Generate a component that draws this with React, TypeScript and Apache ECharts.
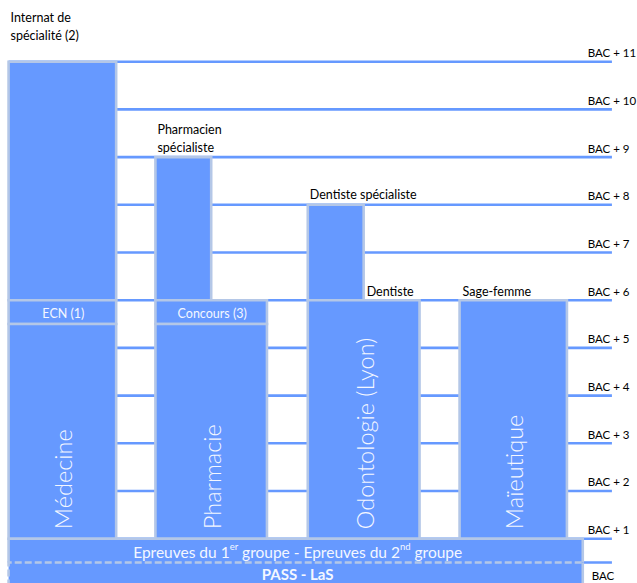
import React, { useEffect, useRef } from "react";
import * as echarts from "echarts";

// ---- data (diagram units: x in track widths, y in years after the BAC) ----
const levelValues = [0.5, 1, 2, 3, 4, 5, 6, 7, 8, 9, 10, 11];
const levelLabels = [
  "BAC", "BAC + 1", "BAC + 2", "BAC + 3", "BAC + 4", "BAC + 5",
  "BAC + 6", "BAC + 7", "BAC + 8", "BAC + 9", "BAC + 10", "BAC + 11",
];

const tracks = ["Médecine", "Pharmacie", "Odontologie (Lyon)", "Maïeutique"];
const trackLeft = [0, 1.335, 2.72, 4.1];
const trackRight = [0.978, 2.349, 3.736, 5.076];
const trackBottom = [1, 1, 1, 1];
const trackTop = [5.5, 5.5, 6, 6];

const exams = ["ECN (1)", "Concours (3)"];
const examTrack = [0, 1];
const examBottom = [5.5, 5.5];
const examTop = [6, 6];

const specialties = ["Internat de\nspécialité (2)", "Pharmacien\nspécialiste", "Dentiste spécialiste"];
const specialtyTrack = [0, 1, 2];
const specialtyShare = [1, 0.5, 0.5];
const specialtyBottom = [6, 6, 6];
const specialtyTop = [11, 9, 8];
const specialtyCaptionLevel = [11.33, 9, 8];

const exitLabels = ["Dentiste", "Sage-femme"];
const exitAt = [3.228, 4.1];
const exitLevel = [6, 6];

const commonYears = ["Epreuves du 1er groupe - Epreuves du 2nd groupe", "PASS - LaS"];
const commonBottom = [0.5, 0];
const commonTop = [1, 0.5];
const commonLeft = 0;
const commonRight = 5.22;
const lineEnd = 5.485;
const labelAt = 5.265;
const verticalTextLevel = 1.2;

// ---- styles ----
const BLUE = "#6699FF";
const EDGE = "#B4C7E7";
const INK = "#F4F7FF";
const FONT = "Lato, 'Open Sans', sans-serif";

export default function App() {
  const ref = useRef<HTMLDivElement>(null);
  useEffect(() => {
    if (!ref.current) return;
    const chart = echarts.init(ref.current, undefined, { renderer: "svg" });

    const lineSeries = {
      type: "custom",
      data: levelValues.map((v) => [0, v]),
      renderItem: (_p: any, api: any) => {
        const lv = api.value(1);
        const a = api.coord([0, lv]);
        const b = api.coord([lineEnd, lv]);
        return {
          type: "line",
          shape: { x1: a[0], y1: a[1], x2: b[0], y2: b[1] },
          style: { stroke: BLUE, lineWidth: 2.6 },
        };
      },
    };

    const levelLabelSeries = {
      type: "custom",
      data: levelValues.map((v) => [labelAt, v]),
      renderItem: (p: any, api: any) => {
        const pt = api.coord([api.value(0), api.value(1)]);
        const below = p.dataIndex === 0;
        return {
          type: "text",
          x: pt[0] + (below ? 4 : 0),
          y: pt[1] + (below ? 12.5 : -9),
          style: {
            text: levelLabels[p.dataIndex],
            fill: "#000",
            fontSize: 11.5,
            fontFamily: FONT,
            align: "left",
            verticalAlign: "middle",
          },
        };
      },
    };

    const specialtySeries = {
      type: "custom",
      data: specialties.map((_, i) => {
        const t = specialtyTrack[i];
        const l = trackLeft[t];
        const r = l + (trackRight[t] - trackLeft[t]) * specialtyShare[i];
        return [l, r, specialtyBottom[i], specialtyTop[i], specialtyCaptionLevel[i]];
      }),
      renderItem: (p: any, api: any) => {
        const a = api.coord([api.value(0), api.value(3)]);
        const b = api.coord([api.value(1), api.value(2)]);
        const c = api.coord([api.value(0), api.value(4)]);
        return {
          type: "group",
          children: [
            {
              type: "rect",
              shape: { x: a[0], y: a[1], width: b[0] - a[0], height: b[1] - a[1] },
              style: { fill: BLUE, stroke: EDGE, lineWidth: 2.6 },
            },
            {
              type: "text",
              x: c[0] + 2,
              y: c[1] - 1,
              style: {
                text: specialties[p.dataIndex],
                fill: "#000",
                fontSize: 12.5,
                lineHeight: 18,
                fontFamily: FONT,
                align: "left",
                verticalAlign: "bottom",
              },
            },
          ],
        };
      },
    };

    const examSeries = {
      type: "custom",
      data: exams.map((_, i) => [trackLeft[examTrack[i]], trackRight[examTrack[i]], examBottom[i], examTop[i]]),
      renderItem: (p: any, api: any) => {
        const a = api.coord([api.value(0), api.value(3)]);
        const b = api.coord([api.value(1), api.value(2)]);
        return {
          type: "group",
          children: [
            {
              type: "rect",
              shape: { x: a[0], y: a[1], width: b[0] - a[0], height: b[1] - a[1] },
              style: { fill: BLUE, stroke: EDGE, lineWidth: 2.6 },
            },
            {
              type: "text",
              x: (a[0] + b[0]) / 2 + 1,
              y: (a[1] + b[1]) / 2 + 1,
              style: {
                text: exams[p.dataIndex],
                fill: INK,
                fontSize: 12.5,
                fontFamily: FONT,
                align: "center",
                verticalAlign: "middle",
              },
            },
          ],
        };
      },
    };

    const trackSeries = {
      type: "custom",
      data: tracks.map((_, i) => [trackLeft[i], trackRight[i], trackBottom[i], trackTop[i]]),
      renderItem: (p: any, api: any) => {
        const a = api.coord([api.value(0), api.value(3)]);
        const b = api.coord([api.value(1), api.value(2)]);
        const s = api.coord([api.value(0), verticalTextLevel]);
        return {
          type: "group",
          children: [
            {
              type: "rect",
              shape: { x: a[0], y: a[1], width: b[0] - a[0], height: b[1] - a[1] },
              style: { fill: BLUE, stroke: EDGE, lineWidth: 2.6 },
            },
            {
              type: "text",
              x: (a[0] + b[0]) / 2 + 1,
              y: s[1],
              rotation: Math.PI / 2,
              style: {
                text: tracks[p.dataIndex],
                fill: INK,
                fontSize: 23.5,
                fontWeight: 300,
                fontFamily: FONT,
                align: "left",
                verticalAlign: "middle",
              },
            },
          ],
        };
      },
    };

    const commonSeries = {
      type: "custom",
      data: commonYears.map((_, i) => [commonLeft, commonRight, commonBottom[i], commonTop[i]]),
      renderItem: (p: any, api: any) => {
        const a = api.coord([api.value(0), api.value(3)]);
        const b = api.coord([api.value(1), api.value(2)]);
        const w = b[0] - a[0];
        const h = b[1] - a[1];
        const first = p.dataIndex === 0;
        const children: any[] = [];
        if (first) {
          children.push({
            type: "rect",
            shape: { x: a[0], y: a[1], width: w, height: h },
            style: { fill: BLUE },
          });
          children.push({
            type: "polyline",
            shape: { points: [[a[0], b[1]], [a[0], a[1]], [b[0], a[1]], [b[0], b[1]]] },
            style: { stroke: EDGE, lineWidth: 2.6, fill: null },
          });
          children.push({
            type: "text",
            x: (a[0] + b[0]) / 2 + 2,
            y: (a[1] + b[1]) / 2,
            style: {
              text: "{t|Epreuves du 1}{s|er}{t| groupe - Epreuves du 2}{s|nd}{t| groupe}",
              align: "center",
              verticalAlign: "middle",
              rich: {
                t: { fill: INK, fontSize: 15.5, fontFamily: FONT, lineHeight: 18, verticalAlign: "bottom" },
                s: { fill: INK, fontSize: 9.5, fontFamily: FONT, lineHeight: 10, verticalAlign: "top" },
              },
            },
          });
        } else {
          children.push({
            type: "rect",
            shape: { x: a[0], y: a[1], width: w, height: h },
            style: { fill: BLUE },
          });
          children.push({
            type: "polyline",
            shape: { points: [[b[0], b[1]], [b[0], a[1]]] },
            style: { stroke: EDGE, lineWidth: 2.6, fill: null },
          });
          children.push({
            type: "polyline",
            shape: { points: [[a[0], b[1]], [a[0], a[1]], [b[0], a[1]]] },
            style: { stroke: EDGE, lineWidth: 2.6, fill: null, lineDash: [7, 3] },
          });
          children.push({
            type: "text",
            x: (a[0] + b[0]) / 2 + 2,
            y: a[1] + 11.5,
            style: {
              text: commonYears[1],
              fill: INK,
              fontSize: 15,
              fontWeight: "bold",
              fontFamily: FONT,
              align: "center",
              verticalAlign: "middle",
            },
          });
        }
        return { type: "group", children };
      },
    };

    const exitSeries = {
      type: "custom",
      data: exitLabels.map((_, i) => [exitAt[i], exitLevel[i]]),
      renderItem: (p: any, api: any) => {
        const pt = api.coord([api.value(0), api.value(1)]);
        return {
          type: "text",
          x: pt[0] + 3,
          y: pt[1] - 9,
          style: {
            text: exitLabels[p.dataIndex],
            fill: "#000",
            fontSize: 12.5,
            fontFamily: FONT,
            align: "left",
            verticalAlign: "middle",
          },
        };
      },
    };

    chart.setOption({
      animation: false,
      grid: { left: 0, right: 0, top: 0, bottom: 0 },
      xAxis: { type: "value", min: -0.078, max: 5.713, show: false },
      yAxis: { type: "value", min: 0.071, max: 12.294, show: false },
      series: [
        lineSeries,
        levelLabelSeries,
        specialtySeries,
        examSeries,
        trackSeries,
        commonSeries,
        exitSeries,
      ],
    });
    return () => chart.dispose();
  }, []);

  return (
    <div
      ref={ref}
      style={{ position: "fixed", left: 0, top: 0, width: 637, height: 583, background: "#fff" }}
    />
  );
}
